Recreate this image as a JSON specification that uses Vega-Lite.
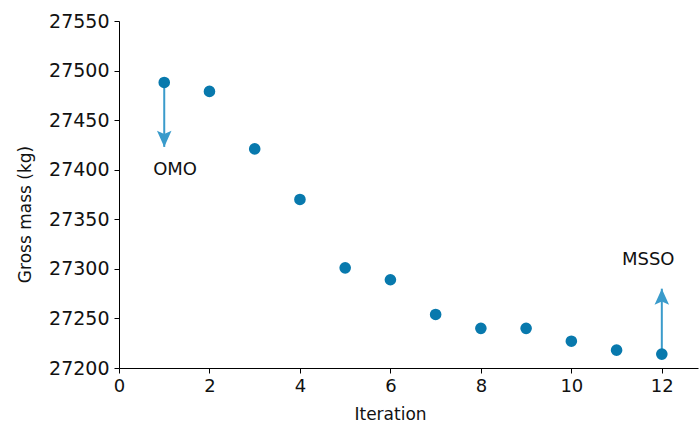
{
  "$schema": "https://vega.github.io/schema/vega-lite/v6.json",
  "width": 579,
  "height": 347,
  "autosize": "none",
  "padding": {"left": 119, "top": 21, "right": 1, "bottom": 54},
  "background": "white",
  "config": {"view": {"stroke": null}, "font": "DejaVu Sans"},
  "datasets": {
    "pts": [
      {"iter": 1, "mass": 27488},
      {"iter": 2, "mass": 27479},
      {"iter": 3, "mass": 27421},
      {"iter": 4, "mass": 27370},
      {"iter": 5, "mass": 27301},
      {"iter": 6, "mass": 27289},
      {"iter": 7, "mass": 27254},
      {"iter": 8, "mass": 27240},
      {"iter": 9, "mass": 27240},
      {"iter": 10, "mass": 27227},
      {"iter": 11, "mass": 27218},
      {"iter": 12, "mass": 27214}
    ],
    "arrows": [
      {"iter": 1, "from": 27488, "to": 27423, "dir": "down"},
      {"iter": 12, "from": 27214, "to": 27280, "dir": "up"}
    ],
    "labels": [
      {"lx": 1.24, "ly": 27400, "text": "OMO"},
      {"lx": 11.7, "ly": 27309, "text": "MSSO"}
    ]
  },
  "layer": [
    {
      "data": {"name": "arrows"},
      "mark": {"type": "rule", "color": "#3a9bcb", "strokeWidth": 2},
      "encoding": {
        "x": {"field": "iter", "type": "quantitative", "scale": {"domain": [0, 12.8], "nice": false, "zero": false},
          "axis": {"values": [0, 2, 4, 6, 8, 10, 12], "grid": false, "domainColor": "#000", "tickColor": "#000", "tickSize": 5, "labelFlush": false,
            "labelFontSize": 18, "labelColor": "#111", "labelPadding": 4, "title": "Iteration", "titleFontSize": 17, "titleFontWeight": "normal", "titleColor": "#111",
            "titleX": 271, "titleY": 51, "titleBaseline": "alphabetic", "titleAlign": "center"}},
        "y": {"field": "from", "type": "quantitative", "scale": {"domain": [27200, 27550], "nice": false, "zero": false},
          "axis": {"values": [27200, 27250, 27300, 27350, 27400, 27450, 27500, 27550], "format": "d", "grid": false, "domainColor": "#000", "tickColor": "#000", "tickSize": 5, "labelFlush": false,
            "labelFontSize": 19, "labelColor": "#111", "labelPadding": 5, "title": "Gross mass (kg)", "titleFontSize": 17, "titleFontWeight": "normal", "titleColor": "#111",
            "titleX": -94, "titleY": 193, "titleAngle": -90, "titleBaseline": "middle", "titleAlign": "center"}},
        "y2": {"field": "to"}
      }
    },
    {
      "data": {"name": "arrows"},
      "transform": [{"filter": "datum.dir === 'down'"}],
      "mark": {"type": "point", "filled": true, "color": "#3a9bcb", "opacity": 1, "size": 260, "shape": "M0,0 L-0.9,-2 L0,-1.6 L0.9,-2 Z"},
      "encoding": {
        "x": {"field": "iter", "type": "quantitative"},
        "y": {"field": "to", "type": "quantitative"}
      }
    },
    {
      "data": {"name": "arrows"},
      "transform": [{"filter": "datum.dir === 'up'"}],
      "mark": {"type": "point", "filled": true, "color": "#3a9bcb", "opacity": 1, "size": 260, "shape": "M0,0 L-0.9,2 L0,1.6 L0.9,2 Z"},
      "encoding": {
        "x": {"field": "iter", "type": "quantitative"},
        "y": {"field": "to", "type": "quantitative"}
      }
    },
    {
      "data": {"name": "pts"},
      "mark": {"type": "circle", "color": "#0879ad", "opacity": 1, "size": 135},
      "encoding": {
        "x": {"field": "iter", "type": "quantitative"},
        "y": {"field": "mass", "type": "quantitative"}
      }
    },
    {
      "data": {"name": "labels"},
      "mark": {"type": "text", "fontSize": 18, "color": "#111", "align": "center", "baseline": "middle"},
      "encoding": {
        "x": {"field": "lx", "type": "quantitative"},
        "y": {"field": "ly", "type": "quantitative"},
        "text": {"field": "text"}
      }
    }
  ]
}
